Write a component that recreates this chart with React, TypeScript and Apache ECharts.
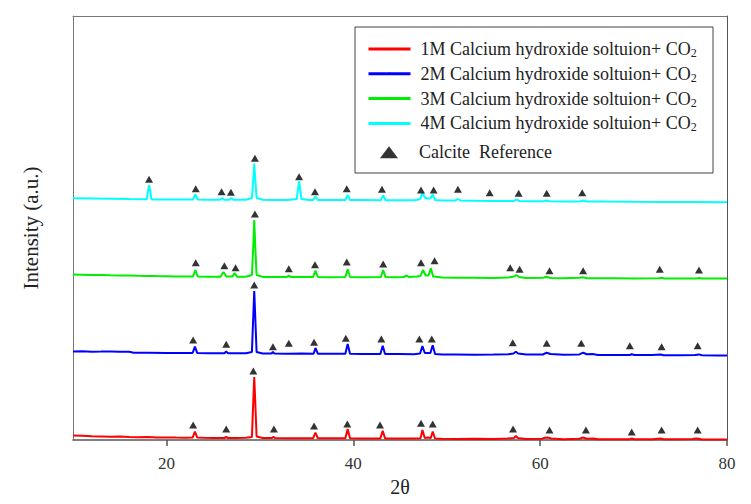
import React, { useEffect, useRef, useState } from "react";
import * as echarts from "echarts";

// 2θ (deg) vs. offset intensity (a.u.)
const sample1M: [number, number][] = [
  [10, 4.5], [11, 4.2], [12, 3.8], [13, 3.6], [14, 3.2], [15, 3.4], [16, 3], [17, 2.8], [18, 2.9], [19, 2.5],
  [20, 2.6], [21, 2.4], [22, 2.3], [22.8, 2.4], [23.05, 8.3], [23.3, 2.4], [24, 2.2], [25, 2.1], [26.2, 2],
  [26.4, 3], [26.6, 2], [27.5, 2], [28.5, 2.2], [29.15, 3], [29.3, 40], [29.4, 63], [29.5, 40], [29.65, 3.5],
  [30.3, 2], [31.3, 1.9], [31.45, 3.2], [31.6, 1.9], [33, 1.8], [34, 1.8], [35.7, 1.8], [35.95, 7.3], [36.2, 1.8],
  [37.5, 1.7], [39.15, 1.8], [39.4, 11], [39.65, 1.8], [41, 1.6], [42.9, 1.6], [43.15, 9.3], [43.4, 1.6],
  [45, 1.5], [46.5, 1.5], [47.2, 1.8], [47.4, 10], [47.65, 2], [48.0, 2.5], [48.3, 2], [48.5, 8.5], [48.75, 1.5],
  [49.5, 1.2], [51, 1.0], [53, 1.2], [55, 1], [56.5, 1.5], [57.2, 2], [57.4, 4], [57.6, 2], [58.5, 1],
  [60.2, 1.2], [60.5, 2.3], [60.8, 2.5], [61.2, 1.5], [62.5, 0.8], [64.2, 1.3], [64.6, 2.5], [65, 1.3],
  [65.7, 1.6], [66.2, 0.8], [68, 0.7], [69.6, 0.8], [69.8, 1.5], [70.1, 0.7], [72, 0.8], [72.9, 1.5],
  [73.2, 0.7], [75, 0.7], [76.3, 0.9], [76.7, 1.5], [77, 1.2], [77.3, 0.6], [79, 0.5], [80, 0.5],
];

const sample2M: [number, number][] = [
  [10, 88.5], [11, 88.7], [12, 88.3], [13, 88.4], [14, 88.6], [15, 88.2], [16, 88.2], [16.5, 87.3], [18, 87.2],
  [20, 87], [21.5, 87.1], [22.8, 87], [23.05, 93.3], [23.3, 86.9], [24.5, 86.8], [26.2, 86.8], [26.4, 88.5],
  [26.6, 86.8], [27.5, 86.7], [28.5, 86.8], [29.15, 88], [29.3, 125], [29.4, 149], [29.5, 125], [29.65, 88],
  [30.3, 86.5], [31.25, 86.5], [31.4, 88], [31.55, 86.5], [33, 86.3], [34.5, 86.4], [35.75, 86.3], [35.95, 92],
  [36.2, 86.3], [37.5, 86.2], [39.15, 86.3], [39.4, 96], [39.65, 86.3], [41, 86], [42.9, 86], [43.15, 94.3],
  [43.4, 86], [45, 85.9], [46.5, 85.8], [47.15, 86.5], [47.4, 94], [47.65, 87], [48.0, 87], [48.25, 87],
  [48.5, 94.7], [48.75, 86], [49.5, 85.5], [51, 85.6], [53, 85.3], [55, 85.5], [56.6, 85.8], [57.15, 86.5],
  [57.4, 88.3], [57.65, 86.5], [58.5, 85.5], [60.3, 85.5], [60.7, 87.3], [61.1, 86], [62.5, 85.2], [64.2, 85.6],
  [64.6, 87.3], [65, 85.8], [65.6, 86], [66.2, 85], [68, 85], [69.6, 85], [69.8, 85.8], [70.1, 85], [72, 85],
  [72.9, 85.5], [73.2, 84.8], [75, 84.8], [76.6, 85], [77, 85.6], [77.3, 84.8], [79, 84.6], [80, 84.5],
];

const sample3M: [number, number][] = [
  [10, 165.5], [11, 165.3], [12, 165], [13, 165.1], [14, 164.7], [15, 164.6], [16, 164.5], [17, 164.2],
  [18, 164.1], [19, 163.9], [20, 163.8], [21, 163.6], [22, 163.5], [22.85, 163.6], [23.1, 170], [23.35, 163.5],
  [24.5, 163.3], [25.8, 163.3], [26.1, 168], [26.4, 163.5], [27.05, 163.4], [27.3, 167], [27.55, 163.3],
  [28.5, 163.3], [29.15, 165], [29.3, 195], [29.4, 220], [29.5, 195], [29.65, 165], [30.3, 163.1], [31.5, 163],
  [32.9, 163], [33.1, 164.5], [33.3, 163], [34.5, 162.9], [35.7, 163], [35.95, 169.3], [36.2, 163], [37.5, 162.8],
  [39.15, 163], [39.4, 170.7], [39.65, 163], [41, 162.8], [42.95, 162.9], [43.2, 170], [43.45, 162.9],
  [44.5, 162.8], [45.4, 163], [45.7, 164.5], [46, 162.9], [46.8, 163.5], [47.2, 164], [47.45, 170], [47.75, 164.5],
  [48.05, 164.5], [48.3, 171.7], [48.55, 163.5], [49.5, 162.5], [51, 162.3], [53, 162.3], [55, 162.1],
  [56.6, 162.5], [57.2, 163.5], [57.45, 165], [57.75, 163], [58.5, 162], [60.3, 162.2], [60.7, 163.3], [61.1, 162],
  [62.5, 161.8], [64.2, 162.3], [64.6, 162.7], [65, 161.8], [68, 161.7], [70, 161.6], [72.7, 161.8], [73, 162.2],
  [73.3, 161.6], [76.7, 161.6], [77, 162], [77.3, 161.5], [80, 161.4],
];

const sample4M: [number, number][] = [
  [10, 241.7], [12, 241.5], [14, 241.3], [16, 241], [17.9, 240.8], [18.05, 250], [18.15, 255], [18.25, 250],
  [18.4, 240.6], [20, 240.5], [21.5, 240.5], [22.85, 240.5], [23.1, 245.5], [23.35, 240.4], [24.5, 240.3],
  [25.75, 240.3], [25.95, 242], [26.15, 240.3], [26.75, 240.3], [26.95, 242], [27.15, 240.3], [28.5, 240.3],
  [29.15, 242], [29.3, 262], [29.4, 276.5], [29.5, 262], [29.65, 242], [30.3, 240.2], [31.5, 240.1], [33, 240.1],
  [33.95, 241], [34.1, 252], [34.2, 258.5], [34.3, 252], [34.45, 241], [35.3, 240], [35.7, 240], [35.95, 243.5],
  [36.2, 240], [37.5, 240], [39.15, 240], [39.4, 245], [39.65, 240], [41, 239.9], [42.95, 239.8], [43.2, 244.5],
  [43.45, 239.8], [45, 239.7], [46.6, 239.8], [47.15, 241], [47.4, 247], [47.7, 242], [48.0, 241.5],
  [48.25, 241.5], [48.5, 245.5], [48.75, 240], [49.5, 239.4], [50.9, 239.4], [51.2, 241], [51.5, 239.4],
  [53, 239.2], [55, 239.1], [57.2, 239.1], [57.5, 240.3], [57.8, 239], [59, 238.8], [60.4, 238.8], [60.7, 239.5],
  [61, 238.8], [62.5, 238.6], [64.3, 238.6], [64.6, 239.5], [64.9, 238.6], [67, 238.4], [70, 238.2], [73, 238.1],
  [76, 238], [80, 237.8],
];

// Calcite reference markers placed above each pattern
const calcite1M: [number, number][] = [
  [22.86, 15], [26.4, 11], [29.3, 69], [31.5, 11], [35.8, 14], [39.36, 16], [42.86, 15], [47.25, 16.7],
  [48.5, 16], [57.1, 11], [61.0, 10], [64.9, 10], [69.8, 8], [73.0, 10], [76.86, 10],
];
const calcite2M: [number, number][] = [
  [22.86, 100], [26.4, 95.7], [29.4, 155], [31.4, 93.3], [33.1, 96.7], [35.8, 97.7], [39.2, 101.7], [43.0, 101],
  [47.07, 101], [48.4, 101], [57.07, 97.3], [60.7, 96.7], [64.4, 96.7], [69.6, 94.3], [73.0, 93.3], [76.86, 94.3],
];
const calcite3M: [number, number][] = [
  [23.14, 177.3], [26.2, 174.3], [27.4, 172.3], [29.47, 226], [33.1, 171.3], [35.9, 175.3], [39.3, 178],
  [43.2, 176], [47.25, 177.3], [48.7, 179.3], [56.8, 172.3], [57.8, 170.7], [61.0, 169.3], [64.6, 169.3],
  [72.8, 170.7], [77.0, 170],
];
const calcite4M: [number, number][] = [
  [18.14, 260.7], [23.14, 251.3], [25.9, 248.3], [26.9, 247.7], [29.47, 281.7], [34.2, 263.3], [35.9, 248.3],
  [39.3, 251.3], [43.07, 250.7], [47.25, 250], [48.6, 250], [51.2, 250.7], [54.6, 247.3], [57.7, 246.7],
  [60.7, 246.7], [64.5, 247.3],
];

const seriesNames = [
  "1M Calcium hydroxide soltuion+ CO2",
  "2M Calcium hydroxide soltuion+ CO2",
  "3M Calcium hydroxide soltuion+ CO2",
  "4M Calcium hydroxide soltuion+ CO2",
];
const referenceName = "Calcite  Reference";
const seriesColors = ["#ff0000", "#0000ff", "#00ee00", "#00ffff"];
const xTicks = [20, 40, 60, 80];

const FONT = "Liberation Serif";

function buildOption() {
  const patterns = [sample1M, sample2M, sample3M, sample4M];
  const series: any[] = patterns.map((d, i) => ({
    name: seriesNames[i],
    type: "line",
    data: d,
    symbol: "none",
    lineStyle: { width: 2 },
  }));
  series.push({
    name: referenceName,
    type: "scatter",
    data: [...calcite1M, ...calcite2M, ...calcite3M, ...calcite4M],
    symbol: "triangle",
    symbolSize: [8, 7],
    itemStyle: { color: "#000" },
    z: 8,
  });

  return {
    animation: false,
    color: seriesColors,
    grid: { left: 73, right: 24, top: 16, bottom: 64 },
    graphic: [
      {
        type: "rect",
        shape: { x: 355, y: 27, width: 358, height: 146 },
        style: { fill: "#fff", stroke: "#444", lineWidth: 1 },
        z: 1,
      },
    ],
    legend: [
      {
        data: seriesNames,
        orient: "vertical",
        left: 367,
        top: 40,
        padding: 0,
        itemGap: 5.8,
        itemWidth: 42,
        itemHeight: 3,
        lineStyle: { width: 3 },
        selectedMode: false,
        z: 10,
        textStyle: {
          fontFamily: FONT,
          padding: [0, 0, 0, 5],
          rich: {
            t: { fontFamily: FONT, fontSize: 18, color: "#222", lineHeight: 20 },
            s: { fontFamily: FONT, fontSize: 12, color: "#222", lineHeight: 12, verticalAlign: "bottom" },
          },
        },
        formatter: (name: string) => `{t|${name.slice(0, -1)}}{s|${name.slice(-1)}}`,
      },
      {
        data: [{ name: referenceName, icon: "triangle", itemStyle: { color: "#000" } }],
        orient: "vertical",
        left: 380,
        top: 143.3,
        padding: 0,
        itemWidth: 18,
        itemHeight: 12,
        symbolKeepAspect: false,
        selectedMode: false,
        z: 10,
        textStyle: { fontFamily: FONT, fontSize: 18, color: "#222", padding: [0, 0, 0, 16] },
      },
    ],
    xAxis: [
      {
        type: "value",
        min: 10,
        max: 80,
        name: "2θ",
        nameLocation: "middle",
        nameGap: 33,
        nameTextStyle: { fontFamily: FONT, fontSize: 20, color: "#222" },
        axisLine: { show: true, onZero: false, lineStyle: { color: "#555", width: 1.5 } },
        axisTick: { show: true, customValues: xTicks, length: 6, lineStyle: { color: "#555", width: 1.5 } },
        axisLabel: { customValues: xTicks, margin: 15, fontFamily: FONT, fontSize: 17, color: "#333" },
        splitLine: { show: false },
      },
      {
        type: "value",
        position: "top",
        min: 10,
        max: 80,
        axisLine: { show: true, onZero: false, lineStyle: { color: "#777" } },
        axisTick: { show: false },
        axisLabel: { show: false },
        splitLine: { show: false },
      },
    ],
    yAxis: [
      {
        type: "value",
        min: 0,
        max: 424,
        name: "Intensity (a.u.)",
        nameLocation: "middle",
        nameGap: 32,
        nameRotate: 90,
        nameTextStyle: { fontFamily: FONT, fontSize: 21, color: "#222" },
        axisLine: { show: true, onZero: false, lineStyle: { color: "#777" } },
        axisTick: { show: false },
        axisLabel: { show: false },
        splitLine: { show: false },
      },
      {
        type: "value",
        position: "right",
        min: 0,
        max: 424,
        axisLine: { show: true, onZero: false, lineStyle: { color: "#555" } },
        axisTick: { show: false },
        axisLabel: { show: false },
        splitLine: { show: false },
      },
    ],
    series,
  };
}

export default function App() {
  const ref = useRef<HTMLDivElement>(null);
  const [err, setErr] = useState("");
  useEffect(() => {
    if (!ref.current) return;
    const chart = echarts.init(ref.current, undefined, { renderer: "svg" });
    try {
      chart.setOption(buildOption() as any, true);
    } catch (e: any) {
      setErr(String(e && e.stack ? e.stack : e).slice(0, 400));
    }
    return () => chart.dispose();
  }, []);
  return (
    <div style={{ position: "absolute", left: 0, top: 0, width: 751, height: 504, background: "#fff" }}>
      <div ref={ref} style={{ width: 751, height: 504 }} />
      {err ? (
        <div style={{ position: "absolute", left: 0, top: 0, width: 751, fontSize: 11, color: "#c00", fontFamily: "monospace", background: "rgba(255,255,255,0.85)" }}>{err}</div>
      ) : null}
    </div>
  );
}
